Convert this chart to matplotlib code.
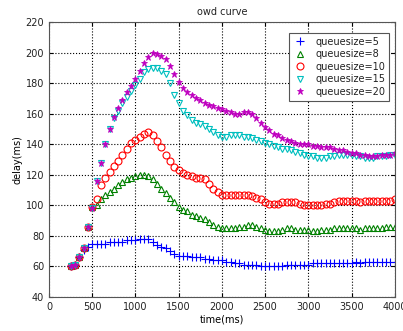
import matplotlib
matplotlib.use('Agg')
import matplotlib.pyplot as plt

# time axis (ms) and one-way delay (ms) per queue size
time_ms = list(range(250, 4001, 50))

q5 = [60, 61, 66, 71, 73,
      75, 75, 75, 75, 76, 76, 76, 76, 77, 77,
      77, 78, 78, 78, 76, 74, 73, 72, 70, 68,
      67, 67, 67, 66, 66, 66, 65, 65, 64, 64,
      64, 63, 63, 62, 62, 61, 61, 61, 61, 60,
      60, 60, 60, 60, 60, 61, 61, 61, 61, 61,
      61, 62, 62, 62, 62, 62, 62, 62, 62, 62,
      62, 63, 62, 63, 63, 63, 63, 63, 63, 63, 63]

q8 = [60, 61, 66, 72, 86,
      99, 100, 104, 107, 109, 111, 113, 115, 117, 118,
      119, 120, 120, 119, 117, 114, 111, 108, 105, 102,
      99, 97, 96, 94, 93, 92, 91, 89, 87, 86,
      85, 85, 85, 85, 86, 86, 87, 87, 86, 85,
      84, 83, 83, 83, 84, 85, 85, 84, 84, 84,
      84, 83, 83, 84, 84, 84, 85, 85, 85, 85,
      85, 85, 84, 85, 85, 85, 85, 85, 86, 86, 86]

q10 = [60, 61, 66, 72, 86,
       99, 104, 113, 118, 122, 126, 129, 133, 137, 141,
       143, 145, 147, 148, 146, 142, 138, 133, 129, 125,
       123, 121, 120, 119, 118, 118, 117, 114, 111, 109,
       107, 107, 107, 107, 107, 107, 107, 106, 105, 104,
       102, 101, 101, 101, 102, 102, 102, 102, 101, 100,
       100, 100, 100, 100, 101, 101, 102, 103, 103, 103,
       103, 103, 102, 103, 103, 103, 103, 103, 103, 103, 104]

q15 = [60, 61, 66, 72, 86,
       98, 116, 128, 140, 150, 157, 162, 167, 171, 175,
       179, 183, 187, 189, 190, 190, 188, 186, 180, 172,
       167, 162, 159, 156, 154, 153, 152, 150, 148, 146,
       145, 145, 146, 146, 146, 145, 145, 144, 143, 142,
       141, 140, 139, 138, 137, 137, 136, 135, 134, 133,
       132, 132, 131, 131, 131, 132, 132, 133, 133, 133,
       133, 132, 132, 131, 131, 131, 132, 132, 132, 133, 133]

q20 = [60, 61, 66, 72, 86,
       98, 116, 128, 140, 150, 158, 164, 169, 174, 178,
       183, 188, 193, 197, 200, 199, 198, 196, 191, 186,
       181, 177, 174, 172, 170, 169, 167, 166, 165, 164,
       163, 162, 161, 160, 160, 161, 161, 160, 157, 154,
       151, 149, 147, 146, 144, 143, 142, 141, 140, 140,
       140, 139, 139, 138, 138, 138, 137, 136, 136, 135,
       134, 134, 133, 133, 132, 132, 132, 133, 133, 133, 134]

labels = ['queuesize=5', 'queuesize=8', 'queuesize=10', 'queuesize=15', 'queuesize=20']

plt.rcParams['font.family'] = ['DejaVu Sans']
plt.rcParams['font.size'] = 7
plt.rcParams['text.color'] = '#222222'
plt.rcParams['xtick.labelcolor'] = '#222222'
plt.rcParams['ytick.labelcolor'] = '#222222'

fig = plt.figure(figsize=(4.03, 3.31), dpi=100)
ax = fig.add_axes([0.1216, 0.1027, 0.858, 0.8308])

ax.plot(time_ms, q5, '+', color='b', ms=5.5, mew=0.8, label=labels[0])
ax.plot(time_ms, q8, '^', color=(0, 0.5, 0), mfc='none', ms=5, mew=0.8, label=labels[1])
ax.plot(time_ms, q10, 'o', color='r', mfc='none', ms=5, mew=0.8, label=labels[2])
ax.plot(time_ms, q15, 'v', color='c', mfc='none', ms=5, mew=0.8, label=labels[3])
ax.plot(time_ms, q20, '*', color='m', ms=5, mew=0.6, label=labels[4])

ax.set_xlim(0, 4000)
ax.set_ylim(40, 220)
ax.set_xticks(range(0, 4001, 500))
ax.set_yticks(range(40, 221, 20))
ax.grid(True, linestyle=':', color='black', linewidth=0.8)
ax.tick_params(direction='in', top=True, right=True, length=3, labelsize=7)
for s in ax.spines.values():
    s.set_color('#555555')

ax.set_xlabel('time(ms)', fontsize=7, labelpad=2)
ax.set_ylabel('delay(ms)', fontsize=7, labelpad=2)
ax.set_title('owd curve', fontsize=7, pad=5)

leg = ax.legend(loc='upper right', bbox_to_anchor=(0.983, 0.96), borderaxespad=0,
                fontsize=7, fancybox=False, framealpha=1, edgecolor='#555555',
                handletextpad=0.8, labelspacing=0.25, handlelength=1.5)
leg.get_frame().set_linewidth(0.8)

fig.savefig('out.png', dpi=100)
